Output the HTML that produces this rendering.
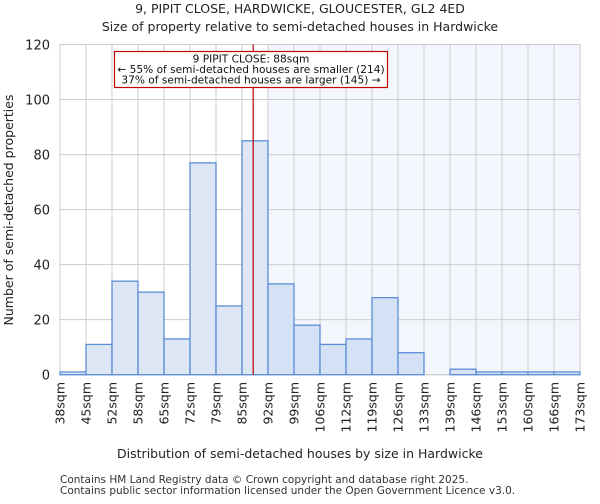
<!DOCTYPE html>
<html><head><meta charset="utf-8"><style>
body{margin:0;background:#fff;font-family:"DejaVu Sans","Liberation Sans",sans-serif;}
svg text{font-family:"DejaVu Sans","Liberation Sans",sans-serif;}
</style></head><body>
<svg id="chart" width="600" height="500" xmlns="http://www.w3.org/2000/svg">
<text x="300" y="13" text-anchor="middle" font-size="12.5" fill="#222">9, PIPIT CLOSE, HARDWICKE, GLOUCESTER, GL2 4ED</text>
<text x="300" y="31" text-anchor="middle" font-size="12.5" fill="#222">Size of property relative to semi-detached houses in Hardwicke</text>
<g id="plot"></g>
<text x="300" y="458" text-anchor="middle" font-size="12.5" fill="#222">Distribution of semi-detached houses by size in Hardwicke</text>
<text transform="translate(13,210) rotate(-90)" text-anchor="middle" font-size="12.5" fill="#222">Number of semi-detached properties</text>
<text x="60" y="483" font-size="10.5" fill="#333">Contains HM Land Registry data © Crown copyright and database right 2025.</text>
<text x="60" y="494" font-size="10.5" fill="#333">Contains public sector information licensed under the Open Government Licence v3.0.</text>
</svg>
<script>
const binLabels=["38sqm","45sqm","52sqm","58sqm","65sqm","72sqm","79sqm","85sqm","92sqm","99sqm","106sqm","112sqm","119sqm","126sqm","133sqm","139sqm","146sqm","153sqm","160sqm","166sqm","173sqm"];
const counts=[1,11,34,30,13,77,25,85,33,18,11,13,28,8,0,2,1,1,1,1];
const yTicks=[0,20,40,60,80,100,120];
const propertyBinIndex=7.43;
const highlightFromBin=8;
const NS="http://www.w3.org/2000/svg";
const X0=60,X1=580,Y0=374.7,Y1=44.5,YMAX=120;
const bw=(X1-X0)/counts.length;
const xs=i=>X0+i*bw;
const ys=v=>Y0-(v/YMAX)*(Y0-Y1);
const g=document.getElementById('plot');
function mk(t,a){const e=document.createElementNS(NS,t);for(const k in a)e.setAttribute(k,a[k]);g.appendChild(e);return e;}
let e=mk('rect',{x:xs(highlightFromBin),y:Y1,width:X1-xs(highlightFromBin),height:Y0-Y1,fill:'#f3f6fd'});


for(const t of yTicks){
 e=mk('line',{x1:X0,x2:X1,y1:ys(t),y2:ys(t),stroke:'#cccccc','stroke-width':1});
 
 
 e=mk('text',{x:X0-10,y:ys(t)+5,'text-anchor':'end','font-size':'13',fill:'#222'});
 e.textContent=t;
 
 
}
for(let i=0;i<binLabels.length;i++){
 e=mk('line',{x1:xs(i),x2:xs(i),y1:Y1,y2:Y0,stroke:'#cccccc','stroke-width':1});
 
 
 e=mk('text',{transform:`translate(${xs(i)+4.5},382) rotate(-90)`,'text-anchor':'end','font-size':'12.5',fill:'#222'});
 e.textContent=binLabels[i];
 
 
}
e=mk('rect',{x:X0,y:Y1,width:X1-X0,height:Y0-Y1,fill:'none',stroke:'#cccccc'});


counts.forEach((c,i)=>{
 if(c<=0)return;
 const r=mk('rect',{x:xs(i),y:ys(c),width:bw,height:Y0-ys(c),fill:i>=highlightFromBin?'#d5e1f4':'#dde6f5',stroke:'#5b8ed6','stroke-width':1.3});
 
 
});
const px=xs(propertyBinIndex);
e=mk('line',{x1:px,x2:px,y1:Y1,y2:Y0,stroke:'#c00000','stroke-width':1.2});


e=mk('rect',{x:114.5,y:51.5,width:273,height:36,fill:'#fff',stroke:'#c00000','stroke-width':1.2});


const ann=["9 PIPIT CLOSE: 88sqm","← 55% of semi-detached houses are smaller (214)","37% of semi-detached houses are larger (145) →"];
ann.forEach((t,i)=>{
 const a=mk('text',{x:251,y:62.5+i*10.5,'text-anchor':'middle','font-size':'10.6',fill:'#111'});
 a.textContent=t;
 
 
});
</script>
</body></html>
